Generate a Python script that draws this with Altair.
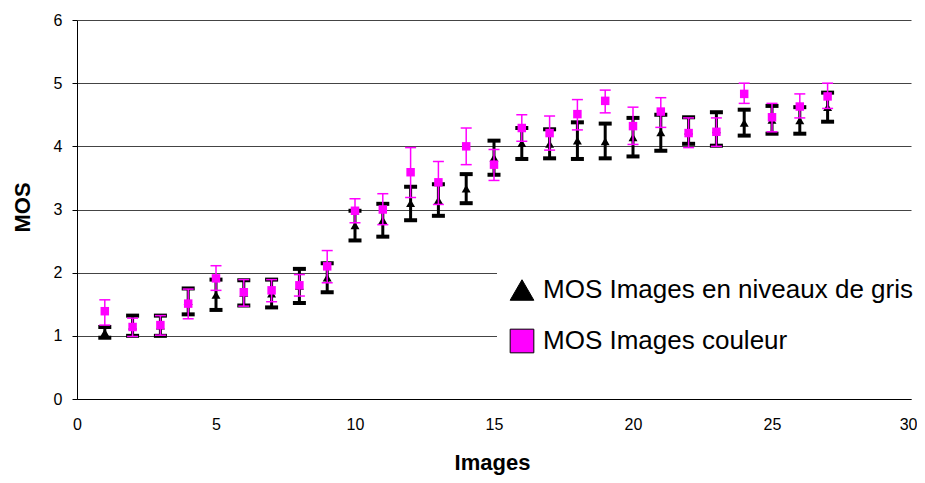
import altair as alt
import pandas as pd

images = list(range(1, 28))

grey_mean = [1.05, 1.16, 1.16, 1.55, 1.65, 1.68, 1.67, 1.79, 1.92, 2.75, 2.83, 3.10, 3.15, 3.33,
             3.82, 4.05, 4.04, 4.09, 4.08, 4.14, 4.22, 4.25, 4.27, 4.37, 4.42, 4.41, 4.62]
grey_lo = [0.97, 1.00, 1.00, 1.34, 1.41, 1.48, 1.45, 1.52, 1.69, 2.51, 2.57, 2.83, 2.90, 3.10,
           3.55, 3.80, 3.81, 3.80, 3.81, 3.84, 3.93, 4.04, 4.01, 4.17, 4.20, 4.20, 4.39]
grey_hi = [1.14, 1.32, 1.32, 1.75, 1.89, 1.88, 1.89, 2.06, 2.15, 2.98, 3.09, 3.36, 3.40, 3.56,
           4.09, 4.29, 4.27, 4.38, 4.36, 4.45, 4.50, 4.46, 4.54, 4.58, 4.64, 4.62, 4.85]

colour_mean = [1.39, 1.14, 1.17, 1.51, 1.91, 1.69, 1.72, 1.80, 2.10, 2.98, 3.00, 3.59, 3.43, 4.00,
               3.71, 4.29, 4.21, 4.51, 4.72, 4.32, 4.55, 4.21, 4.23, 4.83, 4.46, 4.63, 4.79]
colour_lo = [1.17, 0.99, 1.01, 1.27, 1.72, 1.47, 1.54, 1.63, 1.84, 2.79, 2.76, 3.19, 3.08, 3.71,
             3.46, 4.08, 3.94, 4.26, 4.53, 4.03, 4.30, 3.98, 4.00, 4.68, 4.23, 4.45, 4.60]
colour_hi = [1.57, 1.28, 1.32, 1.74, 2.11, 1.89, 1.89, 1.97, 2.35, 3.17, 3.25, 3.98, 3.76, 4.29,
             3.95, 4.50, 4.48, 4.74, 4.89, 4.62, 4.77, 4.45, 4.45, 5.00, 4.68, 4.83, 5.00]

series_names = ["MOS Images en niveaux de gris", "MOS Images couleur"]
x_ticks = [0, 5, 10, 15, 20, 25, 30]
y_ticks = [0, 1, 2, 3, 4, 5, 6]

grey = pd.DataFrame({"img": images, "mos": grey_mean, "lo": grey_lo, "hi": grey_hi,
                     "serie": series_names[0]})
colour = pd.DataFrame({"img": images, "mos": colour_mean, "lo": colour_lo, "hi": colour_hi,
                       "serie": series_names[1]})

FONT = "Liberation Sans"

x_axis = alt.Axis(values=x_ticks, ticks=False, grid=False, title="Images",
                  labelFont=FONT, labelFontSize=16, labelColor="black", labelPadding=17,
                  labelFlush=False,
                  labelAlign=alt.condition("datum.value >= 30", alt.value("right"),
                                           alt.value("center")),
                  labelOffset=alt.condition("datum.value >= 30", alt.value(6), alt.value(0)),
                  domainColor="black", domainWidth=1,
                  titleFont=FONT, titleFontSize=22, titleFontWeight="bold", titleColor="black",
                  titleX=415, titleY=70, titleAlign="center", titleBaseline="alphabetic")
y_axis = alt.Axis(values=y_ticks, tickSize=5, tickColor="black", grid=True,
                  gridColor="#444444", gridWidth=1.2, title="MOS",
                  labelFont=FONT, labelFontSize=16, labelColor="black", labelPadding=10,
                  domainColor="black", domainWidth=1,
                  titleFont=FONT, titleFontSize=22, titleFontWeight="bold", titleColor="black",
                  titleX=-55, titleY=187, titleAngle=270, titleAlign="center",
                  titleBaseline="middle")

xs = alt.Scale(domain=[0, 30], nice=False)
ys = alt.Scale(domain=[0, 6], nice=False)


def X():
    return alt.X("img:Q", scale=xs, axis=x_axis)


def Y(field):
    return alt.Y(f"{field}:Q", scale=ys, axis=y_axis)


def bars(df, color, line_w, cap_w, cap_t):
    base = alt.Chart(df)
    rule = base.mark_rule(color=color, strokeWidth=line_w).encode(
        x=X(), y=Y("lo"), y2="hi:Q")
    cap_lo = base.mark_tick(color=color, orient="horizontal", size=cap_w,
                            thickness=cap_t, opacity=1).encode(x=X(), y=Y("lo"))
    cap_hi = base.mark_tick(color=color, orient="horizontal", size=cap_w,
                            thickness=cap_t, opacity=1).encode(x=X(), y=Y("hi"))
    return [rule, cap_lo, cap_hi]


legend = alt.Legend(title=None, orient="none", legendX=420, legendY=245,
                    fillColor="white", padding=12, symbolSize=560,
                    symbolStrokeColor="black", symbolStrokeWidth=1,
                    labelFont=FONT, labelFontSize=26, labelColor="black",
                    labelOffset=8, rowPadding=24, labelLimit=500)

color_enc = alt.Color("serie:N", scale=alt.Scale(domain=series_names,
                                                  range=["black", "#ff00ff"]), legend=legend)
shape_enc = alt.Shape("serie:N", scale=alt.Scale(domain=series_names,
                                                  range=["triangle-up", "square"]), legend=legend)

grey_pts = alt.Chart(grey).mark_point(filled=True, opacity=1, size=80).encode(
    x=X(), y=Y("mos"), color=color_enc, shape=shape_enc)
colour_pts = alt.Chart(colour).mark_point(filled=True, opacity=1, size=72).encode(
    x=X(), y=Y("mos"), color=color_enc, shape=shape_enc)

layers = (bars(grey, "black", 3, 13, 4) + [grey_pts]
          + bars(colour, "#ff00ff", 1.5, 11, 1.5) + [colour_pts])

chart = alt.layer(*layers).properties(
    width=834, height=379,
    autosize=alt.AutoSizeParams(type="none"),
    padding={"left": 69, "top": 12, "right": 6, "bottom": 76},
    background="white",
).configure_view(stroke=None)

chart.save("out.html", embed_options={"renderer": "svg", "actions": False})
